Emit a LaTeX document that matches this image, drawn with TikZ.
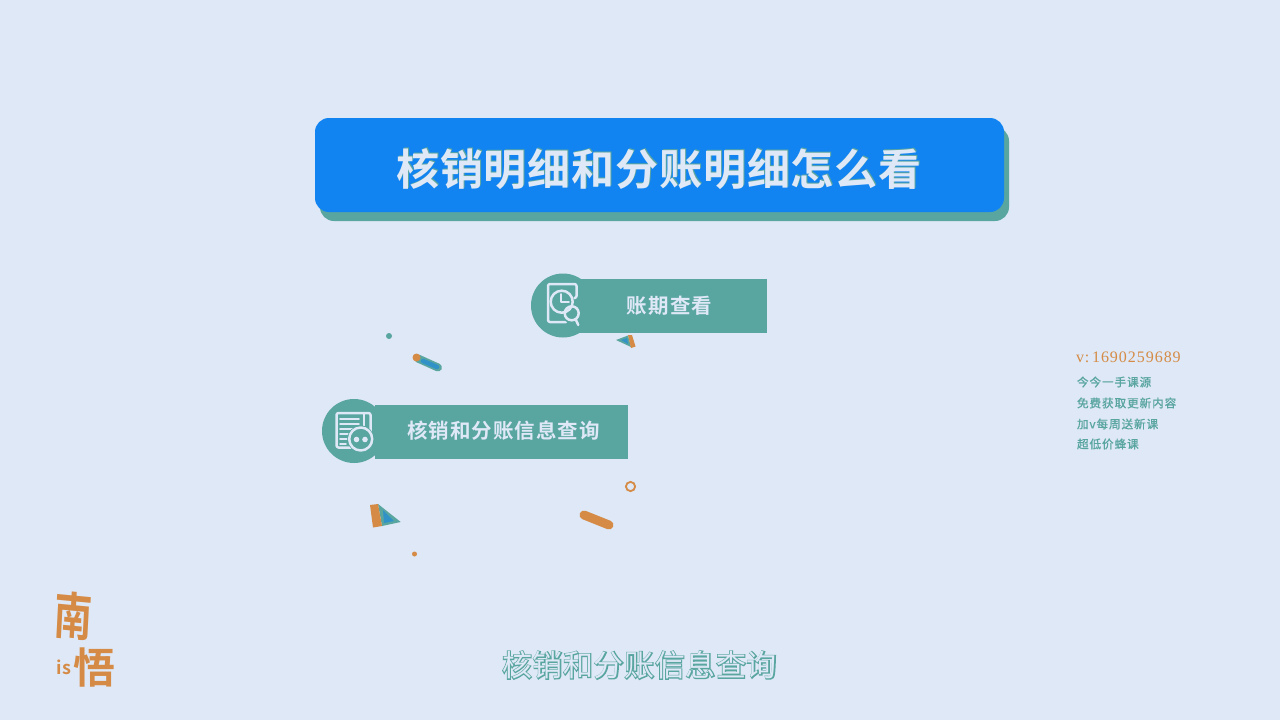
\documentclass[tikz,border=0pt]{standalone}
\usepackage{fontspec}
\setmainfont{Noto Sans CJK SC}
\newfontfamily\cjkbold{Noto Sans CJK SC Bold}
\newfontfamily\titlefont[LetterSpace=2]{Noto Sans CJK SC Bold}
\newfontfamily\labelfont[LetterSpace=5]{Noto Sans CJK SC Bold}
\newfontfamily\subfont[LetterSpace=2]{Noto Sans CJK SC}
\newfontfamily\suboutline[LetterSpace=2,FakeBold=6]{Noto Sans CJK SC}
\newfontfamily\sidefont[LetterSpace=8,FakeBold=1]{Noto Sans CJK SC}
\newfontfamily\numfont[LetterSpace=6]{Liberation Serif}
\definecolor{bgc}{HTML}{DEE8F6}
\definecolor{teal1}{HTML}{59A5A0}
\definecolor{blue1}{HTML}{1184F2}
\definecolor{orange1}{HTML}{D58B45}
\definecolor{mixblue}{HTML}{3192C8}
\tikzset{
  txt/.style={inner sep=0pt,outer sep=0pt},
  titletext/.style={txt,font=\titlefont\fontsize{43}{43}\selectfont},
  labeltext/.style={txt,text=bgc,font=\labelfont\fontsize{20.5}{21}\selectfont},
  subtext/.style={txt,font=\subfont\fontsize{30}{30}\selectfont,text=bgc},
  suboutlinetext/.style={txt,font=\suboutline\fontsize{30}{30}\selectfont,text=teal1},
  sidetext/.style={txt,anchor=west,text=teal1,font=\sidefont\fontsize{11.6}{12}\selectfont},
  iconline/.style={draw=bgc,line width=2.5pt,line cap=round,line join=round},
  logotext/.style={txt,text=orange1},
}
\begin{document}
\begin{tikzpicture}[x=1pt,y=-1pt]
\useasboundingbox (0,0) rectangle (1280,720);
\fill[bgc] (0,0) rectangle (1280,720);
% title banner
\fill[teal1,rounded corners=14pt] (320,127) rectangle (1009,221);
\fill[blue1,rounded corners=14pt] (315,118) rectangle (1004,212);
\node[titletext,text=teal1] (titleshadow) at (660,168.5) {核销明细和分账明细怎么看};
\node[titletext,text=bgc] (title) at (659,169.5) {核销明细和分账明细怎么看};
% label one
\fill[teal1] (563,305.5) circle (32pt);
\fill[teal1] (575,279) rectangle (767,333);
\node[labeltext] (labelone) at (669.5,306) {账期查看};
\draw[iconline,rounded corners=2pt] (575,298) -- (576.5,298) -- (576.5,284) -- (548,284) -- (548,322) -- (566,322);
\fill[teal1] (571.7,313.3) circle (10pt);
\draw[iconline] (561.7,301.7) circle (11pt);
\draw[iconline,line width=1.8pt] (561,294) -- (561,302) -- (569,302);
\draw[iconline] (571.7,313.3) circle (7pt);
\draw[iconline] (575.5,319) -- (578.3,325);
% label two
\fill[teal1] (354,431) circle (32pt);
\fill[teal1] (375,405) rectangle (628,459);
\node[labeltext] (labeltwo) at (503.5,431) {核销和分账信息查询};
\draw[iconline,rounded corners=2pt] (336.5,413) rectangle (370.5,447.5);
\draw[iconline,line width=2pt] (363.5,413) -- (363.5,430);
\foreach \yy/\xe in {419/359,424/359,429/358,434/355,439/348,444/346}{
  \draw[iconline,line width=1.6pt] (340,\yy) -- (\xe,\yy);
}
\fill[teal1] (360.7,439) circle (13.5pt);
\draw[iconline] (360.7,439) circle (11.5pt);
\fill[bgc] (356.5,439.5) circle (2.8pt);
\fill[bgc] (365,439.5) circle (2.8pt);
% decorations
\fill[teal1] (389,336) circle (3pt);
\draw[teal1,line width=8pt,line cap=round] (418,358.5) -- (438,367.5);
\draw[mixblue,line width=4.5pt,line cap=round] (423,361) -- (437,367);
\fill[orange1] (416.5,357.5) circle (4pt);
\fill[teal1] (616,340) -- (628,335.5) -- (631,347) -- cycle;
\fill[mixblue] (621,340) -- (627,338) -- (628,344) -- cycle;
\fill[orange1] (628,335) -- (632,335) -- (635.5,346.5) -- (631,348) -- cycle;
\fill[teal1] (378,504) -- (400.7,522) -- (382,526) -- cycle;
\fill[mixblue] (383,510) -- (394,521) -- (384,523) -- cycle;
\fill[orange1] (370,505) -- (378,504) -- (382,526) -- (373,527.5) -- cycle;
\draw[orange1,line width=1.8pt] (630.5,486.5) circle (4.6pt);
\draw[orange1,line width=9pt,line cap=round] (584,515) -- (609,525);
\fill[orange1] (414.5,554) circle (2.5pt);
% side text
\node[txt,anchor=west,text=orange1,font=\numfont\fontsize{16}{16}\selectfont] (sidev) at (1076,357) {v:\,1690259689};
\node[sidetext] (sideone) at (1077,382) {今今一手课源};
\node[sidetext] (sidetwo) at (1077,403) {免费获取更新内容};
\node[sidetext] (sidethree) at (1077,424) {加v每周送新课};
\node[sidetext] (sidefour) at (1077,444) {超低价蜂课};
% logo
\node[logotext,font=\cjkbold\fontsize{38}{38}\selectfont,yscale=1.35,rotate=-4] (logoa) at (73,616) {南};
\node[logotext,font=\cjkbold\fontsize{18}{18}\selectfont] (logob) at (64,667) {is};
\node[logotext,font=\cjkbold\fontsize{42}{42}\selectfont] (logoc) at (94,668) {悟};
% subtitle
\node[suboutlinetext] (subshadow) at (639.5,665) {核销和分账信息查询};
\node[subtext] (sub) at (639.5,665) {核销和分账信息查询};
\end{tikzpicture}
\end{document}
